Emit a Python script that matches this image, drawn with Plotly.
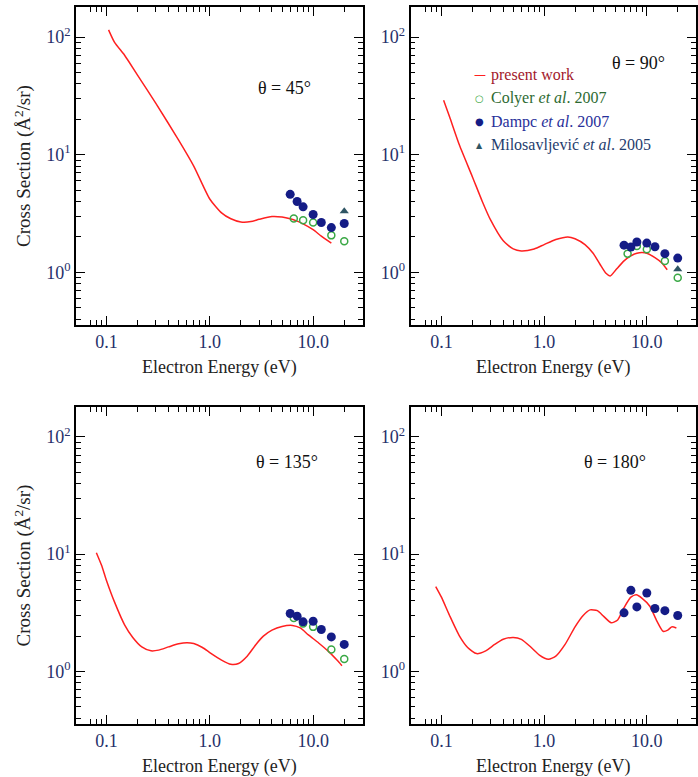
import plotly.graph_objects as go

FONT = "Liberation Serif"
LABEL_COL = "#26306a"
CURVE_COL = "#ff2020"
COLYER_COL = "#3aa845"
DAMPC_COL = "#141c86"
MILO_COL = "#2f5564"

# ---------------- theta = 45 deg ----------------
e45 = [0.105, 0.12, 0.15, 0.2, 0.3, 0.5, 0.7, 1.0, 1.3, 1.6, 2.0, 2.5, 3.0, 4.0, 5.0, 6.0, 7.0, 8.0, 10.0, 12.0, 15.0]
s45 = [115, 90, 70, 47.5, 27.4, 13.3, 8.0, 4.2, 3.2, 2.85, 2.68, 2.7, 2.82, 2.98, 2.95, 2.85, 2.72, 2.58, 2.3, 2.03, 1.77]
colyer45_e = [6.5, 8.0, 10.0, 15.0, 20.0]
colyer45_s = [2.86, 2.77, 2.65, 2.06, 1.84]
dampc45_e = [6.0, 7.0, 8.0, 10.0, 12.0, 15.0, 20.0]
dampc45_s = [4.6, 4.0, 3.6, 3.1, 2.65, 2.4, 2.6]
milo45_e = [20.0]
milo45_s = [3.3]

# ---------------- theta = 90 deg ----------------
e90 = [0.105, 0.12, 0.15, 0.2, 0.25, 0.3, 0.4, 0.5, 0.6, 0.8, 1.0, 1.3, 1.7, 2.0, 2.5, 3.0, 3.5, 4.0, 4.4,
       5.0, 6.0, 7.0, 8.0, 9.0, 10.0, 12.0, 14.0, 15.8]
s90 = [29, 21, 12, 6.5, 4.0, 2.8, 1.85, 1.58, 1.52, 1.58, 1.72, 1.9, 2.0, 1.93, 1.72, 1.45, 1.17, 0.98, 0.93,
       1.05, 1.25, 1.38, 1.45, 1.47, 1.45, 1.33, 1.2, 1.05]
colyer90_e = [6.5, 8.0, 10.0, 15.0, 20.0]
colyer90_s = [1.44, 1.67, 1.57, 1.25, 0.90]
dampc90_e = [6.0, 7.0, 8.0, 10.0, 12.0, 15.0, 20.0]
dampc90_s = [1.70, 1.64, 1.81, 1.77, 1.65, 1.44, 1.32]
milo90_e = [20.0]
milo90_s = [1.06]

# ---------------- theta = 135 deg ----------------
e135 = [0.08, 0.09, 0.1, 0.12, 0.15, 0.18, 0.22, 0.27, 0.32, 0.4, 0.5, 0.6, 0.7, 0.85, 1.0, 1.3, 1.6, 1.9,
        2.3, 2.8, 3.3, 4.0, 5.0, 6.3, 7.5, 9.0, 11.3, 14.0, 17.0, 19.0]
s135 = [10.3, 8.0, 6.0, 3.9, 2.5, 1.95, 1.62, 1.5, 1.52, 1.62, 1.72, 1.76, 1.73, 1.6, 1.45, 1.25, 1.15, 1.17,
        1.35, 1.7, 2.0, 2.25, 2.42, 2.47, 2.35, 2.05, 1.75, 1.49, 1.25, 1.12]
colyer135_e = [6.5, 8.0, 10.0, 15.0, 20.0]
colyer135_s = [2.86, 2.56, 2.40, 1.54, 1.28]
dampc135_e = [6.0, 7.0, 8.0, 10.0, 12.0, 15.0, 20.0]
dampc135_s = [3.12, 2.96, 2.65, 2.68, 2.28, 1.97, 1.70]

# ---------------- theta = 180 deg ----------------
e180 = [0.088, 0.1, 0.12, 0.15, 0.18, 0.22, 0.27, 0.33, 0.4, 0.5, 0.6, 0.75, 0.9, 1.1, 1.3, 1.6, 2.0, 2.4,
        2.8, 3.3, 3.8, 4.5, 5.2, 6.0, 7.0, 7.9, 9.0, 10.7, 12.5, 14.4, 16.0, 17.5, 19.4]
s180 = [5.3, 4.3, 3.0, 2.0, 1.6, 1.42, 1.5, 1.7, 1.88, 1.95, 1.88, 1.6, 1.38, 1.27, 1.35, 1.7, 2.4, 3.0,
        3.35, 3.3, 2.95, 2.6, 2.75, 3.5, 4.3, 4.5, 4.2, 3.6, 2.7, 2.2, 2.25, 2.4, 2.35]
dampc180_e = [6.0, 7.0, 8.0, 10.0, 12.0, 15.0, 20.0]
dampc180_s = [3.16, 4.92, 3.55, 4.67, 3.44, 3.3, 3.0]

x_major = [0.1, 1.0, 10.0]
x_major_text = ["0.1", "1.0", "10.0"]
x_minor = [0.07, 0.08, 0.09, 0.2, 0.3, 0.4, 0.5, 0.6, 0.7, 0.8, 0.9,
           2, 3, 4, 5, 6, 7, 8, 9, 20]
y_major = [1, 10, 100]
y_major_text = ["10<sup>0</sup>", "10<sup>1</sup>", "10<sup>2</sup>"]
y_minor = [0.4, 0.5, 0.6, 0.7, 0.8, 0.9, 2, 3, 4, 5, 6, 7, 8, 9,
           20, 30, 40, 50, 60, 70, 80, 90]

panels = [
    dict(e=e45, s=s45, col=colyer45_e, cols=colyer45_s, dam=dampc45_e, dams=dampc45_s, mil=milo45_e, mils=milo45_s,
         label="θ = 45°"),
    dict(e=e90, s=s90, col=colyer90_e, cols=colyer90_s, dam=dampc90_e, dams=dampc90_s, mil=milo90_e, mils=milo90_s,
         label="θ = 90°"),
    dict(e=e135, s=s135, col=colyer135_e, cols=colyer135_s, dam=dampc135_e, dams=dampc135_s, mil=[], mils=[],
         label="θ = 135°"),
    dict(e=e180, s=s180, col=[], cols=[], dam=dampc180_e, dams=dampc180_s, mil=[], mils=[],
         label="θ = 180°"),
]

W, H = 698, 777
xdom_left = [76 / W, 364 / W]
xdom_right = [411.7 / W, 1.0]
ydom_top = [1 - 325 / H, 1 - 7 / H]
ydom_bot = [1 - 724 / H, 1 - 407 / H]
doms = [(xdom_left, ydom_top), (xdom_right, ydom_top), (xdom_left, ydom_bot), (xdom_right, ydom_bot)]
xranges = [[-1.296, 1.482], [-1.301, 1.479], [-1.296, 1.482], [-1.301, 1.479]]
yrange = [-0.448, 2.255]

fig = go.Figure()
layout = {}
for i, p in enumerate(panels):
    n = i + 1
    xa = "x" if n == 1 else f"x{n}"
    ya = "y" if n == 1 else f"y{n}"
    fig.add_trace(go.Scatter(x=p["e"], y=p["s"], mode="lines",
                             line=dict(color=CURVE_COL, width=1.5, shape="spline", smoothing=0.6),
                             xaxis=xa, yaxis=ya, showlegend=False, name="present work"))
    if p["col"]:
        fig.add_trace(go.Scatter(x=p["col"], y=p["cols"], mode="markers",
                                 marker=dict(symbol="circle-open", size=7, color=COLYER_COL,
                                             line=dict(width=1.5, color=COLYER_COL)),
                                 xaxis=xa, yaxis=ya, showlegend=False, name="Colyer et al. 2007"))
    if p["dam"]:
        fig.add_trace(go.Scatter(x=p["dam"], y=p["dams"], mode="markers",
                                 marker=dict(symbol="circle", size=9, color=DAMPC_COL),
                                 xaxis=xa, yaxis=ya, showlegend=False, name="Dampc et al. 2007"))
    if p["mil"]:
        fig.add_trace(go.Scatter(x=p["mil"], y=p["mils"], mode="markers",
                                 marker=dict(symbol="triangle-up", size=8, color=MILO_COL),
                                 xaxis=xa, yaxis=ya, showlegend=False, name="Milosavljević et al. 2005"))
    xd, yd = doms[i]
    axis_common = dict(showline=True, linecolor="black", linewidth=1.5, mirror="ticks",
                       ticks="inside", ticklen=9, tickwidth=1.2, tickcolor="black",
                       showgrid=False, zeroline=False,
                       tickfont=dict(family=FONT, size=18, color=LABEL_COL))
    layout["xaxis" if n == 1 else f"xaxis{n}"] = dict(
        type="log", domain=xd, range=xranges[i], anchor=ya,
        tickmode="array", tickvals=x_major, ticktext=x_major_text,
        minor=dict(tickmode="array", tickvals=x_minor, ticks="inside", ticklen=5, tickwidth=1, tickcolor="black"),
        title=dict(text="Electron Energy (eV)", font=dict(family=FONT, size=18, color="#222"), standoff=9),
        **axis_common)
    layout["yaxis" if n == 1 else f"yaxis{n}"] = dict(
        type="log", domain=yd, range=yrange, anchor=xa,
        tickmode="array", tickvals=y_major, ticktext=y_major_text,
        minor=dict(tickmode="array", tickvals=y_minor, ticks="inside", ticklen=5, tickwidth=1, tickcolor="black"),
        title=dict(text="Cross Section (Å<sup>2</sup>/sr)" if n in (1, 3) else "",
                   font=dict(family=FONT, size=19, color="#222"), standoff=10),
        **axis_common)

annotations = []
label_pos = [(285, 88), (640, 63), (288, 462), (617, 462)]
for p, (lx, ly) in zip(panels, label_pos):
    annotations.append(dict(text=p["label"], x=lx / W, y=1 - ly / H, xref="paper", yref="paper",
                            showarrow=False, font=dict(family=FONT, size=18, color="#111"),
                            xanchor="center", yanchor="middle"))

legend_rows = [
    (75, CURVE_COL, "—", 12, "#a3182b", "present work"),
    (98, COLYER_COL, "○", 10, "#2d6a31", "Colyer <i>et al</i>. 2007"),
    (122, DAMPC_COL, "●", 10, "#28309a", "Dampc <i>et al</i>. 2007"),
    (145, MILO_COL, "▲", 8, "#1f3d6e", "Milosavljević <i>et al</i>. 2005"),
]
for ly, scol, sym, ssize, tcol, txt in legend_rows:
    annotations.append(dict(text=sym,
                            x=481 / W, y=1 - ly / H, xref="paper", yref="paper", showarrow=False,
                            font=dict(family="DejaVu Sans", size=ssize, color=scol),
                            xanchor="center", yanchor="middle"))
    annotations.append(dict(text=txt, x=490 / W, y=1 - ly / H, xref="paper", yref="paper", showarrow=False,
                            font=dict(family=FONT, size=16, color=tcol), xanchor="left", yanchor="middle"))

fig.update_layout(width=W, height=H, margin=dict(l=0, r=0, t=0, b=0),
                  paper_bgcolor="white", plot_bgcolor="white",
                  font=dict(family=FONT),
                  annotations=annotations, showlegend=False, **layout)

fig.write_html("out.html")
